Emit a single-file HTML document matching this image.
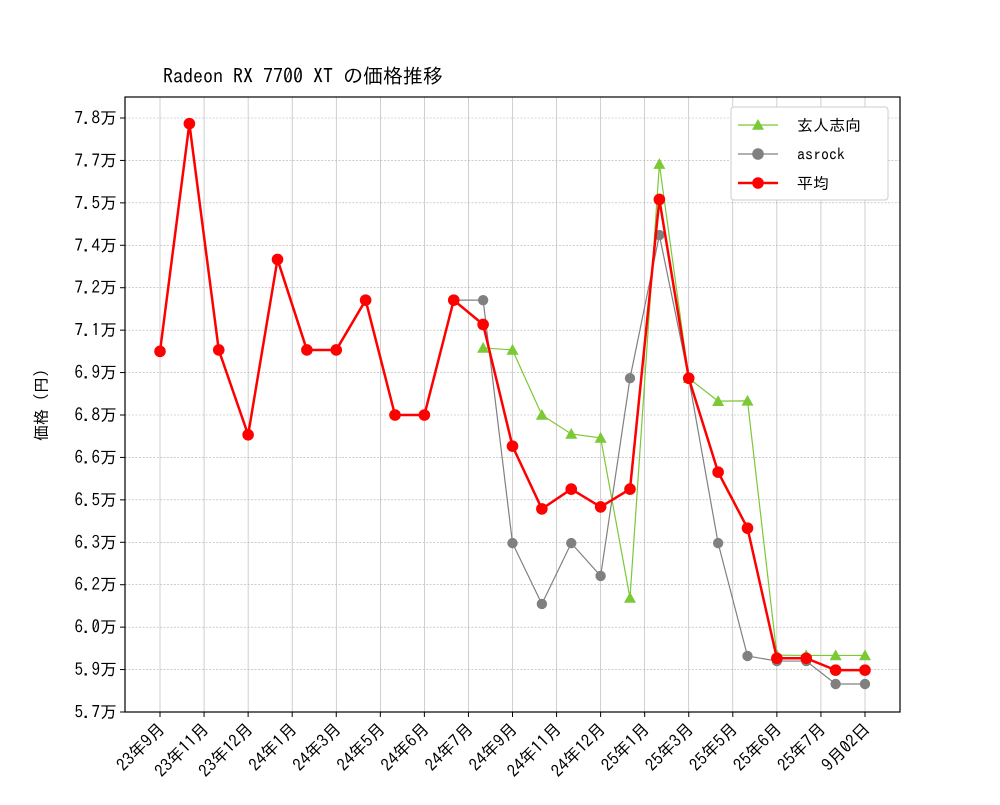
<!DOCTYPE html>
<html><head><meta charset="utf-8">
<style>
body{margin:0;background:#fff;}
svg text{font-family:"IPAGothic","Liberation Mono","Noto Sans CJK JP",monospace;fill:#000;}
</style></head>
<body>
<svg id="chart" width="1000" height="800" xmlns="http://www.w3.org/2000/svg">
<rect width="1000" height="800" fill="#fff"/>
<text x="163" y="83" font-size="20">Radeon RX 7700 XT の価格推移</text>
<text transform="translate(47,405) rotate(-90)" text-anchor="middle" font-size="16">価格 (円)</text>
<g id="grid"></g><g id="axes"></g><g id="series"></g><g id="legend"></g>
</svg>
<script>
const categories = Array.from({length:25},(_,i)=>i);
const tickLabels = ["23年9月","23年11月","23年12月","24年1月","24年3月","24年5月","24年6月","24年7月","24年9月","24年11月","24年12月","25年1月","25年3月","25年5月","25年6月","25年7月","9月02日"];
const yTicks = [57000,58500,60000,61500,63000,64500,66000,67500,69000,70500,72000,73500,75000,76500,78000];
const avgValues = [69750,77800,69800,66800,73000,69800,69800,71560,67500,67500,71560,70700,66400,64180,64880,64250,64880,75120,68800,65480,63500,58900,58900,58480,58480];
const genjinValues = [null,null,null,null,null,null,null,null,null,null,null,69870,69800,67500,66830,66690,61030,76370,68800,67990,68000,59010,59000,59000,59000];
const asrockValues = [null,null,null,null,null,null,null,null,null,null,71560,71560,62970,60820,62970,61810,68800,73860,68800,62970,58980,58800,58800,57990,57990];

const NS="http://www.w3.org/2000/svg";
const L=125,R=900,T=97,B=712;
const x=i=>160+i*(865-160)/24;
const y=v=>712-(v-57000)*(712-118)/21000;
function mk(tag,attrs,parent){const e=document.createElementNS(NS,tag);for(const k in attrs)e.setAttribute(k,attrs[k]);parent.appendChild(e);return e;}
const grid=document.getElementById('grid'),axes=document.getElementById('axes'),ser=document.getElementById('series'),leg=document.getElementById('legend');

yTicks.forEach(v=>{
  const g=mk('line',{x1:L,x2:R,y1:y(v),y2:y(v),stroke:'#b0b0b0','stroke-width':0.6,'stroke-dasharray':'2,1.5'},grid);
  
  
  mk('line',{x1:L-5,x2:L,y1:y(v),y2:y(v),stroke:'#000'},axes);
  const t=mk('text',{x:L-8,y:y(v)+6,'text-anchor':'end','font-size':17},axes);
  t.textContent=(Math.round(v/1000)/10).toFixed(1)+'万';
  
  
});
tickLabels.forEach((lab,k)=>{
  const px=x(k*1.5);
  const g=mk('line',{x1:px,x2:px,y1:T,y2:B,stroke:'#b0b0b0','stroke-width':0.6},grid);
  
  
  mk('line',{x1:px,x2:px,y1:B,y2:B+5,stroke:'#000'},axes);
  const t=mk('text',{x:px+6,y:B+18,'text-anchor':'end','font-size':17,transform:`rotate(-45 ${px+6} ${B+18})`},axes);
  t.textContent=lab;
  
  
});
const frame=mk('rect',{x:L,y:T,width:R-L,height:B-T,fill:'none',stroke:'#000','stroke-width':1.2},axes);



function tri(cx,cy,s){return `${cx},${cy-s} ${cx-s},${cy+s*0.8} ${cx+s},${cy+s*0.8}`;}
function draw(vals,color,w,marker,r,name){
  const pts=[];vals.forEach((v,i)=>{if(v!==null)pts.push([x(i),y(v)]);});
  const pl=mk('polyline',{points:pts.map(p=>p.join(',')).join(' '),fill:'none',stroke:color,'stroke-width':w},ser);
  
  
  pts.forEach(p=>{
    let m;
    if(marker==='tri') m=mk('polygon',{points:tri(p[0],p[1],r),fill:color},ser);
    else m=mk('circle',{cx:p[0],cy:p[1],r:r,fill:color},ser);
    
    
  });
}
draw(genjinValues,'#7ac935',1.2,'tri',6,'genjin');
draw(asrockValues,'#808080',1.2,'circ',5.2,'asrock');
draw(avgValues,'#ff0000',2.5,'circ',5.8,'average');

const lb=mk('rect',{x:731,y:107,width:157,height:93,rx:3,fill:'#fff',stroke:'#ccc'},leg);


[['玄人志向','#7ac935',1.2,'tri'],['asrock','#808080',1.2,'circ'],['平均','#ff0000',2.5,'circ']].forEach((e,k)=>{
  const cy=125+k*29;
  mk('line',{x1:738,x2:778,y1:cy,y2:cy,stroke:e[1],'stroke-width':e[2]},leg);
  if(e[3]==='tri') mk('polygon',{points:tri(758,cy,6),fill:e[1]},leg);
  else mk('circle',{cx:758,cy:cy,r:5.8,fill:e[1]},leg);
  const t=mk('text',{x:797,y:cy+6,'font-size':16},leg);
  t.textContent=e[0];
  
  
});
</script>
</body></html>
